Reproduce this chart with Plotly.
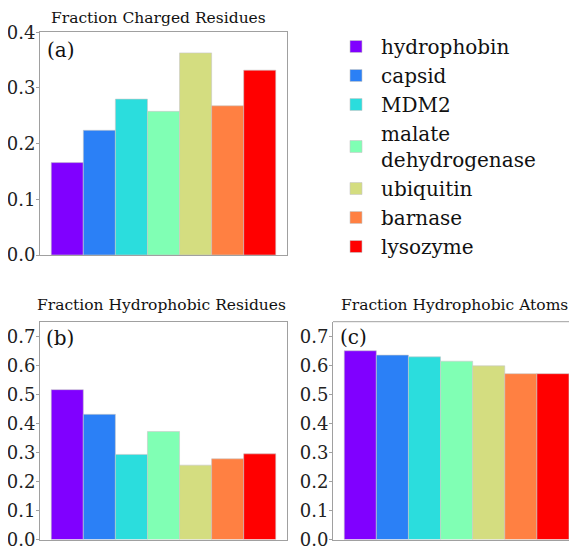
import plotly.graph_objects as go

proteins = ["hydrophobin", "capsid", "MDM2", "malate<br>dehydrogenase", "ubiquitin", "barnase", "lysozyme"]
colors = ["#8000ff", "#2b80f6", "#2bdddd", "#80ffb4", "#d4dd80", "#ff8042", "#ff0000"]
charged_residues = [0.166, 0.224, 0.280, 0.258, 0.363, 0.268, 0.332]
hydrophobic_residues = [0.516, 0.431, 0.293, 0.372, 0.256, 0.278, 0.295]
hydrophobic_atoms = [0.650, 0.635, 0.629, 0.614, 0.598, 0.571, 0.571]
yticks_a = [0.0, 0.1, 0.2, 0.3, 0.4]
yticks_bc = [0.0, 0.1, 0.2, 0.3, 0.4, 0.5, 0.6, 0.7]

# the page body adds an 8px margin; the figure fills the rest of the 577x550 window
OFF = 8
W, H = 577 - OFF, 550 - OFF
FONT = "DejaVu Serif"
LINE = "#a0a0a0"

def px(x):
    return (x - OFF) / W

def py(y):
    return 1 - (y - OFF) / H

fig = go.Figure()

panels = [
    ("x", "y", charged_residues, True),
    ("x2", "y2", hydrophobic_residues, False),
    ("x3", "y3", hydrophobic_atoms, False),
]
for xa, ya, vals, show in panels:
    for i, (name, v, c) in enumerate(zip(proteins, vals, colors)):
        fig.add_trace(go.Bar(
            x=[i], y=[v], width=[1], name=name, marker_color=c,
            marker_line=dict(color="#c8c8c8", width=0.6),
            xaxis=xa, yaxis=ya, showlegend=show, legendgroup=name,
        ))

xcommon = dict(showticklabels=False, ticks="", showgrid=False, zeroline=False, automargin=False,
               showline=True, linecolor=LINE, linewidth=1)
ycommon = dict(showgrid=False, zeroline=False, showline=True, linecolor=LINE, linewidth=1,
               automargin=False, ticks="outside", ticklen=3, tickcolor=LINE, tickformat=".1f",
               ticklabelstandoff=-3, ticklabeloverflow="allow",
               tickfont=dict(family=FONT, size=18, color="#222222"))

BOT = 539.5
fig.update_layout(
    template="none",
    width=W, height=H, margin=dict(l=0, r=0, t=0, b=0, autoexpand=False),
    paper_bgcolor="white", plot_bgcolor="white", barmode="overlay",
    font=dict(family=FONT, color="#111111"),
    xaxis=dict(domain=[px(40), px(287)], range=[-0.85, 6.85], mirror=True, anchor="y", **xcommon),
    yaxis=dict(domain=[py(255), py(32.3)], range=[0, 0.4], tickvals=yticks_a, mirror=True, anchor="x", **ycommon),
    xaxis2=dict(domain=[px(40), px(287)], range=[-0.85, 6.85], mirror=True, anchor="y2", **xcommon),
    yaxis2=dict(domain=[py(BOT), py(321.7)], range=[0, 0.75], tickvals=yticks_bc, mirror=True, anchor="x2", **ycommon),
    xaxis3=dict(domain=[px(333), 1], range=[-0.85, 6.75], mirror=False, anchor="y3", **xcommon),
    yaxis3=dict(domain=[py(BOT), py(321.7)], range=[0, 0.75], tickvals=yticks_bc, mirror=False, anchor="x3", **ycommon),
    legend=dict(x=px(331), y=py(27), xanchor="left", yanchor="top", itemwidth=40,
                font=dict(family=FONT, size=20, color="#111111"),
                bgcolor="rgba(0,0,0,0)", traceorder="normal"),
    showlegend=True,
)

fig.add_shape(type="line", xref="paper", yref="paper", x0=px(333), x1=1, y0=py(321.7), y1=py(321.7),
              line=dict(color=LINE, width=1))

titles = [("Fraction Charged Residues", 158, 17.5), ("Fraction Hydrophobic Residues", 161, 305),
          ("Fraction Hydrophobic Atoms", 454, 305)]
for t, x, y in titles:
    fig.add_annotation(text=t, x=px(x), y=py(y), xref="paper", yref="paper", showarrow=False,
                       xanchor="center", yanchor="middle", borderpad=0, borderwidth=0,
                       font=dict(family=FONT, size=15.5, color="#111111"))

labels = [("(a)", 45, 50), ("(b)", 44, 338), ("(c)", 338, 337)]
for t, x, y in labels:
    fig.add_annotation(text=t, x=px(x), y=py(y), xref="paper", yref="paper", showarrow=False,
                       xanchor="left", yanchor="middle", font=dict(family=FONT, size=20, color="#111111"))

fig.write_html("out.html")
